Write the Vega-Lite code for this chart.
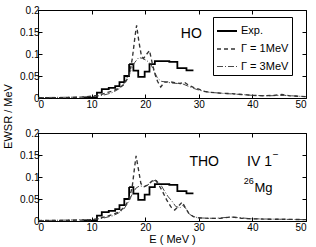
{
  "$schema": "https://vega.github.io/schema/vega-lite/v6.json",
  "padding": {"left": 1, "top": 4, "right": 0, "bottom": 0},
  "background": "white",
  "bounds": "flush",
  "spacing": 35,
  "datasets": {
    "exp": [
      {"E": 8.5, "v": 0.001, "s": "Exp."},
      {"E": 11.0, "v": 0.012, "s": "Exp."},
      {"E": 11.9, "v": 0.020, "s": "Exp."},
      {"E": 13.2, "v": 0.023, "s": "Exp."},
      {"E": 14.4, "v": 0.027, "s": "Exp."},
      {"E": 15.2, "v": 0.036, "s": "Exp."},
      {"E": 16.1, "v": 0.050, "s": "Exp."},
      {"E": 17.0, "v": 0.077, "s": "Exp."},
      {"E": 17.8, "v": 0.062, "s": "Exp."},
      {"E": 18.7, "v": 0.048, "s": "Exp."},
      {"E": 19.9, "v": 0.060, "s": "Exp."},
      {"E": 20.8, "v": 0.077, "s": "Exp."},
      {"E": 21.8, "v": 0.084, "s": "Exp."},
      {"E": 24.5, "v": 0.082, "s": "Exp."},
      {"E": 26.0, "v": 0.068, "s": "Exp."},
      {"E": 27.7, "v": 0.063, "s": "Exp."},
      {"E": 29.0, "v": 0.063, "s": "Exp."}
    ],
    "ho": [
      {"E": 0, "v": 0.001, "s": "Γ = 1MeV"},
      {"E": 5, "v": 0.001, "s": "Γ = 1MeV"},
      {"E": 8, "v": 0.002, "s": "Γ = 1MeV"},
      {"E": 10, "v": 0.004, "s": "Γ = 1MeV"},
      {"E": 11, "v": 0.006, "s": "Γ = 1MeV"},
      {"E": 12, "v": 0.009, "s": "Γ = 1MeV"},
      {"E": 13, "v": 0.013, "s": "Γ = 1MeV"},
      {"E": 14, "v": 0.016, "s": "Γ = 1MeV"},
      {"E": 15, "v": 0.022, "s": "Γ = 1MeV"},
      {"E": 16, "v": 0.030, "s": "Γ = 1MeV"},
      {"E": 17, "v": 0.050, "s": "Γ = 1MeV"},
      {"E": 17.6, "v": 0.090, "s": "Γ = 1MeV"},
      {"E": 18.1, "v": 0.140, "s": "Γ = 1MeV"},
      {"E": 18.4, "v": 0.165, "s": "Γ = 1MeV"},
      {"E": 18.8, "v": 0.130, "s": "Γ = 1MeV"},
      {"E": 19.3, "v": 0.095, "s": "Γ = 1MeV"},
      {"E": 19.7, "v": 0.090, "s": "Γ = 1MeV"},
      {"E": 20.3, "v": 0.100, "s": "Γ = 1MeV"},
      {"E": 20.8, "v": 0.108, "s": "Γ = 1MeV"},
      {"E": 21.3, "v": 0.080, "s": "Γ = 1MeV"},
      {"E": 21.8, "v": 0.055, "s": "Γ = 1MeV"},
      {"E": 22.3, "v": 0.038, "s": "Γ = 1MeV"},
      {"E": 22.9, "v": 0.025, "s": "Γ = 1MeV"},
      {"E": 23.6, "v": 0.036, "s": "Γ = 1MeV"},
      {"E": 24.5, "v": 0.037, "s": "Γ = 1MeV"},
      {"E": 25.5, "v": 0.035, "s": "Γ = 1MeV"},
      {"E": 26.5, "v": 0.033, "s": "Γ = 1MeV"},
      {"E": 27.3, "v": 0.036, "s": "Γ = 1MeV"},
      {"E": 28, "v": 0.030, "s": "Γ = 1MeV"},
      {"E": 29, "v": 0.024, "s": "Γ = 1MeV"},
      {"E": 30, "v": 0.020, "s": "Γ = 1MeV"},
      {"E": 31, "v": 0.015, "s": "Γ = 1MeV"},
      {"E": 32, "v": 0.013, "s": "Γ = 1MeV"},
      {"E": 34, "v": 0.011, "s": "Γ = 1MeV"},
      {"E": 36, "v": 0.010, "s": "Γ = 1MeV"},
      {"E": 38, "v": 0.008, "s": "Γ = 1MeV"},
      {"E": 40, "v": 0.006, "s": "Γ = 1MeV"},
      {"E": 42, "v": 0.005, "s": "Γ = 1MeV"},
      {"E": 44, "v": 0.006, "s": "Γ = 1MeV"},
      {"E": 45.5, "v": 0.008, "s": "Γ = 1MeV"},
      {"E": 47, "v": 0.005, "s": "Γ = 1MeV"},
      {"E": 50, "v": 0.003, "s": "Γ = 1MeV"},
      {"E": 0, "v": 0.001, "s": "Γ = 3MeV"},
      {"E": 8, "v": 0.002, "s": "Γ = 3MeV"},
      {"E": 10, "v": 0.003, "s": "Γ = 3MeV"},
      {"E": 12, "v": 0.006, "s": "Γ = 3MeV"},
      {"E": 13, "v": 0.009, "s": "Γ = 3MeV"},
      {"E": 14, "v": 0.013, "s": "Γ = 3MeV"},
      {"E": 15, "v": 0.020, "s": "Γ = 3MeV"},
      {"E": 16, "v": 0.032, "s": "Γ = 3MeV"},
      {"E": 17, "v": 0.055, "s": "Γ = 3MeV"},
      {"E": 18, "v": 0.080, "s": "Γ = 3MeV"},
      {"E": 18.8, "v": 0.092, "s": "Γ = 3MeV"},
      {"E": 19.5, "v": 0.090, "s": "Γ = 3MeV"},
      {"E": 20.3, "v": 0.085, "s": "Γ = 3MeV"},
      {"E": 21, "v": 0.078, "s": "Γ = 3MeV"},
      {"E": 21.7, "v": 0.060, "s": "Γ = 3MeV"},
      {"E": 22.3, "v": 0.045, "s": "Γ = 3MeV"},
      {"E": 23, "v": 0.038, "s": "Γ = 3MeV"},
      {"E": 24, "v": 0.036, "s": "Γ = 3MeV"},
      {"E": 25, "v": 0.034, "s": "Γ = 3MeV"},
      {"E": 26, "v": 0.033, "s": "Γ = 3MeV"},
      {"E": 27, "v": 0.032, "s": "Γ = 3MeV"},
      {"E": 28, "v": 0.027, "s": "Γ = 3MeV"},
      {"E": 29, "v": 0.022, "s": "Γ = 3MeV"},
      {"E": 30, "v": 0.018, "s": "Γ = 3MeV"},
      {"E": 32, "v": 0.013, "s": "Γ = 3MeV"},
      {"E": 35, "v": 0.010, "s": "Γ = 3MeV"},
      {"E": 38, "v": 0.008, "s": "Γ = 3MeV"},
      {"E": 40, "v": 0.006, "s": "Γ = 3MeV"},
      {"E": 43, "v": 0.005, "s": "Γ = 3MeV"},
      {"E": 46, "v": 0.006, "s": "Γ = 3MeV"},
      {"E": 50, "v": 0.003, "s": "Γ = 3MeV"}
    ],
    "tho": [
      {"E": 0, "v": 0.001, "s": "Γ = 1MeV"},
      {"E": 8, "v": 0.002, "s": "Γ = 1MeV"},
      {"E": 10, "v": 0.003, "s": "Γ = 1MeV"},
      {"E": 11, "v": 0.005, "s": "Γ = 1MeV"},
      {"E": 12, "v": 0.008, "s": "Γ = 1MeV"},
      {"E": 13, "v": 0.011, "s": "Γ = 1MeV"},
      {"E": 14, "v": 0.015, "s": "Γ = 1MeV"},
      {"E": 15, "v": 0.020, "s": "Γ = 1MeV"},
      {"E": 16, "v": 0.030, "s": "Γ = 1MeV"},
      {"E": 17, "v": 0.048, "s": "Γ = 1MeV"},
      {"E": 17.6, "v": 0.080, "s": "Γ = 1MeV"},
      {"E": 18.0, "v": 0.120, "s": "Γ = 1MeV"},
      {"E": 18.3, "v": 0.148, "s": "Γ = 1MeV"},
      {"E": 18.7, "v": 0.120, "s": "Γ = 1MeV"},
      {"E": 19.2, "v": 0.085, "s": "Γ = 1MeV"},
      {"E": 19.8, "v": 0.078, "s": "Γ = 1MeV"},
      {"E": 20.5, "v": 0.082, "s": "Γ = 1MeV"},
      {"E": 21.2, "v": 0.090, "s": "Γ = 1MeV"},
      {"E": 21.8, "v": 0.094, "s": "Γ = 1MeV"},
      {"E": 22.4, "v": 0.085, "s": "Γ = 1MeV"},
      {"E": 23.2, "v": 0.068, "s": "Γ = 1MeV"},
      {"E": 24.0, "v": 0.048, "s": "Γ = 1MeV"},
      {"E": 24.8, "v": 0.032, "s": "Γ = 1MeV"},
      {"E": 25.5, "v": 0.025, "s": "Γ = 1MeV"},
      {"E": 26.3, "v": 0.035, "s": "Γ = 1MeV"},
      {"E": 26.9, "v": 0.043, "s": "Γ = 1MeV"},
      {"E": 27.5, "v": 0.030, "s": "Γ = 1MeV"},
      {"E": 28.2, "v": 0.016, "s": "Γ = 1MeV"},
      {"E": 29, "v": 0.010, "s": "Γ = 1MeV"},
      {"E": 30, "v": 0.007, "s": "Γ = 1MeV"},
      {"E": 32, "v": 0.006, "s": "Γ = 1MeV"},
      {"E": 34, "v": 0.006, "s": "Γ = 1MeV"},
      {"E": 36, "v": 0.009, "s": "Γ = 1MeV"},
      {"E": 37, "v": 0.008, "s": "Γ = 1MeV"},
      {"E": 38, "v": 0.006, "s": "Γ = 1MeV"},
      {"E": 40, "v": 0.005, "s": "Γ = 1MeV"},
      {"E": 43, "v": 0.004, "s": "Γ = 1MeV"},
      {"E": 46, "v": 0.004, "s": "Γ = 1MeV"},
      {"E": 50, "v": 0.003, "s": "Γ = 1MeV"},
      {"E": 0, "v": 0.001, "s": "Γ = 3MeV"},
      {"E": 10, "v": 0.003, "s": "Γ = 3MeV"},
      {"E": 12, "v": 0.006, "s": "Γ = 3MeV"},
      {"E": 14, "v": 0.012, "s": "Γ = 3MeV"},
      {"E": 15, "v": 0.018, "s": "Γ = 3MeV"},
      {"E": 16, "v": 0.027, "s": "Γ = 3MeV"},
      {"E": 17, "v": 0.045, "s": "Γ = 3MeV"},
      {"E": 17.6, "v": 0.062, "s": "Γ = 3MeV"},
      {"E": 18.3, "v": 0.075, "s": "Γ = 3MeV"},
      {"E": 19, "v": 0.080, "s": "Γ = 3MeV"},
      {"E": 19.8, "v": 0.078, "s": "Γ = 3MeV"},
      {"E": 20.5, "v": 0.082, "s": "Γ = 3MeV"},
      {"E": 21.3, "v": 0.090, "s": "Γ = 3MeV"},
      {"E": 22, "v": 0.093, "s": "Γ = 3MeV"},
      {"E": 22.8, "v": 0.085, "s": "Γ = 3MeV"},
      {"E": 23.5, "v": 0.070, "s": "Γ = 3MeV"},
      {"E": 24.3, "v": 0.055, "s": "Γ = 3MeV"},
      {"E": 25, "v": 0.045, "s": "Γ = 3MeV"},
      {"E": 25.7, "v": 0.033, "s": "Γ = 3MeV"},
      {"E": 26.5, "v": 0.030, "s": "Γ = 3MeV"},
      {"E": 27, "v": 0.036, "s": "Γ = 3MeV"},
      {"E": 27.6, "v": 0.028, "s": "Γ = 3MeV"},
      {"E": 28.3, "v": 0.015, "s": "Γ = 3MeV"},
      {"E": 29, "v": 0.010, "s": "Γ = 3MeV"},
      {"E": 30, "v": 0.007, "s": "Γ = 3MeV"},
      {"E": 33, "v": 0.006, "s": "Γ = 3MeV"},
      {"E": 36, "v": 0.009, "s": "Γ = 3MeV"},
      {"E": 37, "v": 0.008, "s": "Γ = 3MeV"},
      {"E": 40, "v": 0.005, "s": "Γ = 3MeV"},
      {"E": 45, "v": 0.004, "s": "Γ = 3MeV"},
      {"E": 50, "v": 0.003, "s": "Γ = 3MeV"}
    ]
  },
  "config": {
    "view": {"stroke": "black", "strokeWidth": 1},
    "axis": {
      "domain": false, "grid": false, "tickSize": -4, "tickColor": "black",
      "labelFont": "Liberation Sans", "labelFontSize": 10, "labelColor": "black", "labelPadding": 5,
      "titleFont": "Liberation Sans", "titleFontSize": 11, "titleFontWeight": "normal", "titleColor": "black"
    },
    "axisY": {"labelPadding": 3},
    "legend": {
      "strokeColor": "black", "fillColor": "white", "padding": 3, "symbolType": "stroke", "symbolSize": 400,
      "labelFont": "Liberation Sans", "labelFontSize": 11, "labelColor": "black", "rowPadding": 2, "labelLimit": 200,
      "labelOffset": 3
    },
    "text": {"font": "Liberation Sans", "color": "black"}
  },
  "resolve": {
    "scale": {"strokeDash": "independent", "color": "independent", "strokeWidth": "independent"},
    "legend": {"strokeDash": "independent", "color": "independent", "strokeWidth": "independent"}
  },
  "vconcat": [
    {
      "width": 268, "height": 88,
      "layer": [
        {
          "data": {"name": "exp"},
          "mark": {"type": "line", "interpolate": "step-after"},
          "encoding": {
            "x": {"field": "E", "type": "quantitative", "scale": {"domain": [0, 50], "nice": false},
                  "axis": {"values": [0, 10, 20, 30, 40, 50], "title": null}},
            "y": {"field": "v", "type": "quantitative", "scale": {"domain": [0, 0.2], "nice": false},
                  "axis": {"values": [0, 0.05, 0.1, 0.15, 0.2], "format": "~g", "title": "EWSR / MeV",
                           "titleX": -25, "titleY": 106, "titleAngle": -90, "titleAlign": "center", "titleBaseline": "bottom"}},
            "strokeDash": {"field": "s", "type": "nominal",
                           "scale": {"domain": ["Exp.", "Γ = 1MeV", "Γ = 3MeV"], "range": [[1, 0], [4, 3], [6, 2, 1, 2]]},
                           "legend": {"title": null, "orient": "none", "legendX": 175, "legendY": 7}},
            "strokeWidth": {"field": "s", "type": "nominal",
                            "scale": {"domain": ["Exp.", "Γ = 1MeV", "Γ = 3MeV"], "range": [1.8, 0.9, 0.9]},
                            "legend": {"title": null, "orient": "none", "legendX": 175, "legendY": 7}},
            "color": {"field": "s", "type": "nominal",
                      "scale": {"domain": ["Exp.", "Γ = 1MeV", "Γ = 3MeV"], "range": ["#000000", "#333333", "#333333"]},
                      "legend": {"title": null, "orient": "none", "legendX": 175, "legendY": 7}}
          }
        },
        {
          "data": {"name": "ho"},
          "mark": {"type": "line"},
          "encoding": {
            "x": {"field": "E", "type": "quantitative",
                  "axis": {"orient": "top", "values": [0, 10, 20, 30, 40, 50], "labels": false, "title": null}},
            "y": {"field": "v", "type": "quantitative",
                  "axis": {"orient": "right", "values": [0, 0.05, 0.1, 0.15, 0.2], "labels": false, "title": null}},
            "detail": {"field": "s"},
            "strokeDash": {"field": "s", "type": "nominal"},
            "strokeWidth": {"field": "s", "type": "nominal"},
            "color": {"field": "s", "type": "nominal"}
          }
        },
        {
          "data": {"values": [{}]},
          "mark": {"type": "text", "fontSize": 14, "align": "center", "baseline": "middle"},
          "encoding": {
            "x": {"datum": 28.6, "type": "quantitative", "axis": null},
            "y": {"datum": 0.145, "type": "quantitative", "axis": null},
            "text": {"value": "HO"}
          }
        }
      ],
      "resolve": {"axis": {"x": "independent", "y": "independent"}}
    },
    {
      "width": 268, "height": 88,
      "layer": [
        {
          "data": {"name": "exp"},
          "mark": {"type": "line", "interpolate": "step-after"},
          "encoding": {
            "x": {"field": "E", "type": "quantitative", "scale": {"domain": [0, 50], "nice": false},
                  "axis": {"values": [0, 10, 20, 30, 40, 50], "title": "E ( MeV )", "titlePadding": 1}},
            "y": {"field": "v", "type": "quantitative", "scale": {"domain": [0, 0.2], "nice": false},
                  "axis": {"values": [0, 0.05, 0.1, 0.15, 0.2], "format": "~g", "title": null}},
            "strokeDash": {"field": "s", "type": "nominal",
                           "scale": {"domain": ["Exp.", "Γ = 1MeV", "Γ = 3MeV"], "range": [[1, 0], [4, 3], [6, 2, 1, 2]]},
                           "legend": null},
            "strokeWidth": {"field": "s", "type": "nominal",
                            "scale": {"domain": ["Exp.", "Γ = 1MeV", "Γ = 3MeV"], "range": [1.8, 0.9, 0.9]},
                            "legend": null},
            "color": {"field": "s", "type": "nominal",
                      "scale": {"domain": ["Exp.", "Γ = 1MeV", "Γ = 3MeV"], "range": ["#000000", "#333333", "#333333"]},
                      "legend": null}
          }
        },
        {
          "data": {"name": "tho"},
          "mark": {"type": "line"},
          "encoding": {
            "x": {"field": "E", "type": "quantitative",
                  "axis": {"orient": "top", "values": [0, 10, 20, 30, 40, 50], "labels": false, "title": null}},
            "y": {"field": "v", "type": "quantitative",
                  "axis": {"orient": "right", "values": [0, 0.05, 0.1, 0.15, 0.2], "labels": false, "title": null}},
            "detail": {"field": "s"},
            "strokeDash": {"field": "s", "type": "nominal", "legend": null},
            "strokeWidth": {"field": "s", "type": "nominal", "legend": null},
            "color": {"field": "s", "type": "nominal", "legend": null}
          }
        },
        {
          "data": {"values": [{}]},
          "mark": {"type": "text", "fontSize": 14, "align": "center", "baseline": "middle"},
          "encoding": {
            "x": {"datum": 31.0, "type": "quantitative", "axis": null},
            "y": {"datum": 0.134, "type": "quantitative", "axis": null},
            "text": {"value": "THO"}
          }
        },
        {
          "data": {"values": [{}]},
          "mark": {"type": "text", "fontSize": 14, "align": "left", "baseline": "middle"},
          "encoding": {
            "x": {"datum": 39.0, "type": "quantitative", "axis": null},
            "y": {"datum": 0.134, "type": "quantitative", "axis": null},
            "text": {"value": "IV  1"}
          }
        },
        {
          "data": {"values": [{}]},
          "mark": {"type": "text", "fontSize": 10, "align": "left", "baseline": "middle"},
          "encoding": {
            "x": {"datum": 43.8, "type": "quantitative", "axis": null},
            "y": {"datum": 0.150, "type": "quantitative", "axis": null},
            "text": {"value": "−"}
          }
        },
        {
          "data": {"values": [{}]},
          "mark": {"type": "text", "fontSize": 9, "align": "left", "baseline": "middle"},
          "encoding": {
            "x": {"datum": 38.4, "type": "quantitative", "axis": null},
            "y": {"datum": 0.090, "type": "quantitative", "axis": null},
            "text": {"value": "26"}
          }
        },
        {
          "data": {"values": [{}]},
          "mark": {"type": "text", "fontSize": 13, "align": "left", "baseline": "middle"},
          "encoding": {
            "x": {"datum": 40.4, "type": "quantitative", "axis": null},
            "y": {"datum": 0.075, "type": "quantitative", "axis": null},
            "text": {"value": "Mg"}
          }
        }
      ],
      "resolve": {"axis": {"x": "independent", "y": "independent"}}
    }
  ]
}
